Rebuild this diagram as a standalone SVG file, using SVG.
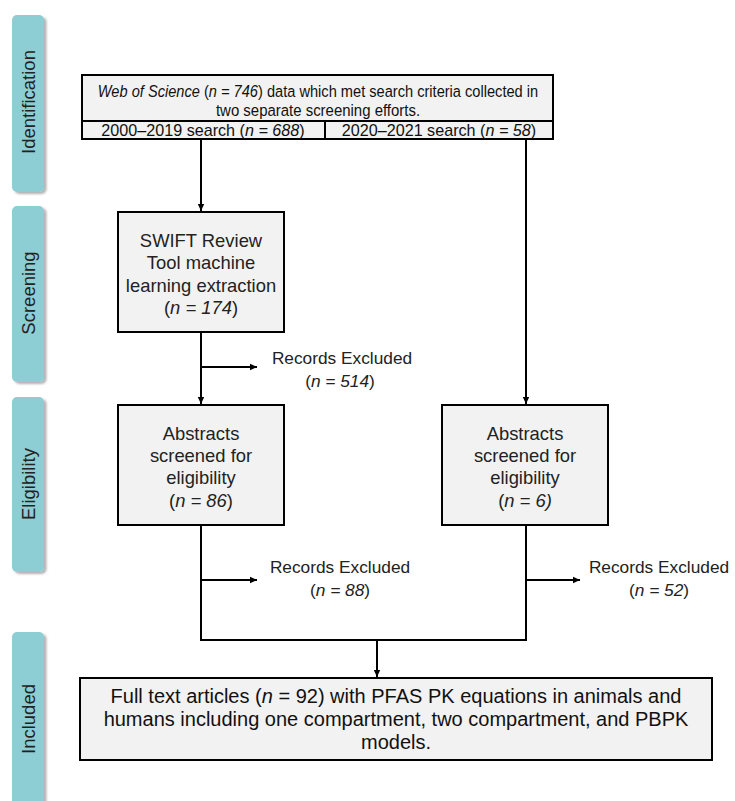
<svg xmlns="http://www.w3.org/2000/svg" width="735" height="801" viewBox="0 0 735 801">
<defs>
<marker id="ah" markerWidth="8" markerHeight="8" refX="7" refY="4" orient="auto" markerUnits="userSpaceOnUse">
<path d="M0,0.8 L7,4 L0,7.2 Z" fill="#000"/>
</marker>
<filter id="sh" x="-20%" y="-5%" width="150%" height="115%">
<feDropShadow dx="2.5" dy="2" stdDeviation="1.2" flood-color="#000" flood-opacity="0.3"/>
</filter>
</defs>
<style>
.bar{fill:#8dcdd4;filter:url(#sh)}
.bl{font-family:"Liberation Sans",Arial,sans-serif;font-size:18.5px;fill:#222;text-anchor:middle}
.box{fill:#f2f2f2;stroke:#000;stroke-width:2}
.t{font-family:"Liberation Sans",Arial,sans-serif;font-size:18.4px;fill:#222;text-anchor:middle}
.r{font-family:"Liberation Sans",Arial,sans-serif;font-size:17.3px;fill:#222;text-anchor:middle}
.n{font-family:"Liberation Sans",Arial,sans-serif;font-size:17px;fill:#111;text-anchor:middle}
.nb{font-family:"Liberation Sans",Arial,sans-serif;font-size:20px;fill:#111;text-anchor:middle}
.ln{fill:none;stroke:#000;stroke-width:2}
</style>
<rect width="735" height="801" fill="#fff"/>
<g id="stage-identification"><rect class="bar" x="12" y="15" width="32" height="177" rx="5"/><text class="bl" transform="translate(35,102) rotate(-90)">Identification</text></g>
<g id="stage-screening"><rect class="bar" x="12" y="206" width="32" height="176" rx="5"/><text class="bl" transform="translate(35,293) rotate(-90)">Screening</text></g>
<g id="stage-eligibility"><rect class="bar" x="12" y="397" width="32" height="175" rx="5"/><text class="bl" transform="translate(35,484) rotate(-90)">Eligibility</text></g>
<g id="stage-included"><rect class="bar" x="12" y="632" width="32" height="180" rx="5"/><text class="bl" transform="translate(35,719) rotate(-90)">Included</text></g>

<g id="connectors">
<path class="ln" d="M201,139 V211" marker-end="url(#ah)"/>
<path class="ln" d="M526,139 V404" marker-end="url(#ah)"/>
<path class="ln" d="M201,332 V404" marker-end="url(#ah)"/>
<path class="ln" d="M201,367 H257" marker-end="url(#ah)"/>
<path class="ln" d="M201,525 V640 H526 V525"/>
<path class="ln" d="M201,580 H257" marker-end="url(#ah)"/>
<path class="ln" d="M526,580 H580" marker-end="url(#ah)"/>
<path class="ln" d="M377,640 V677" marker-end="url(#ah)"/>
</g>

<g id="node-wos">
<rect class="box" x="82" y="75" width="471" height="64"/>
<line class="ln" x1="82" y1="121" x2="553" y2="121"/>
<line class="ln" x1="325" y1="121" x2="325" y2="139"/>
<text class="n" transform="translate(318,97) scale(0.86,1)"><tspan font-style="italic">Web of Science</tspan> (<tspan font-style="italic">n = 746</tspan>) data which met search criteria collected in</text>
<text class="n" transform="translate(318,116) scale(0.88,1)">two separate screening efforts.</text>
<text class="n" transform="translate(203,136) scale(0.95,1)">2000–2019 search (<tspan font-style="italic">n = 688</tspan>)</text>
<text class="n" transform="translate(439,136) scale(0.95,1)">2020–2021 search (<tspan font-style="italic">n = 58</tspan>)</text>
</g>

<g id="node-swift">
<rect class="box" x="118" y="212" width="166" height="120"/>
<text class="t" x="201" y="247">SWIFT Review</text>
<text class="t" x="201" y="269">Tool machine</text>
<text class="t" x="201" y="292">learning extraction</text>
<text class="t" x="201" y="314">(<tspan font-style="italic">n = 174</tspan>)</text>
</g>

<g id="node-excl1">
<text class="r" x="342" y="364">Records Excluded</text>
<text class="r" x="340" y="387">(<tspan font-style="italic">n = 514</tspan>)</text>
</g>

<g id="node-abs-left">
<rect class="box" x="118" y="405" width="166" height="120"/>
<text class="t" x="201" y="440">Abstracts</text>
<text class="t" x="201" y="462">screened for</text>
<text class="t" x="201" y="484">eligibility</text>
<text class="t" x="201" y="507">(<tspan font-style="italic">n = 86</tspan>)</text>
</g>

<g id="node-abs-right">
<rect class="box" x="442" y="405" width="166" height="120"/>
<text class="t" x="525" y="440">Abstracts</text>
<text class="t" x="525" y="462">screened for</text>
<text class="t" x="525" y="484">eligibility</text>
<text class="t" x="525" y="507">(<tspan font-style="italic">n = 6)</tspan></text>
</g>

<g id="node-excl2">
<text class="r" x="340" y="573">Records Excluded</text>
<text class="r" x="340" y="596">(<tspan font-style="italic">n = 88</tspan>)</text>
</g>

<g id="node-excl3">
<text class="r" x="659" y="573">Records Excluded</text>
<text class="r" x="659" y="596">(<tspan font-style="italic">n = 52</tspan>)</text>
</g>

<g id="node-full">
<rect class="box" x="80" y="678" width="632" height="82"/>
<text class="nb" x="396" y="703">Full text articles (<tspan font-style="italic">n</tspan> = 92) with PFAS PK equations in animals and</text>
<text class="nb" x="396" y="726">humans including one compartment, two compartment, and PBPK</text>
<text class="nb" x="396" y="749">models.</text>
</g>
</svg>
